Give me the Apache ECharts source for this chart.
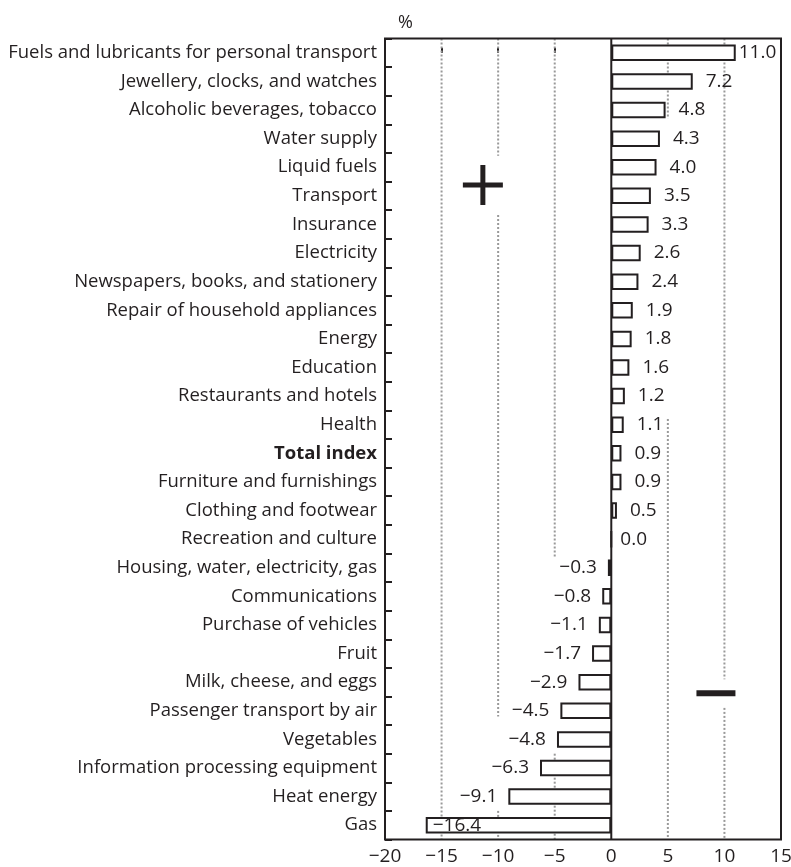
<!DOCTYPE html>
<html><head><meta charset="utf-8">
<script src="https://cdn.jsdelivr.net/npm/echarts@6/dist/echarts.min.js"></script>
<style>html,body{margin:0;padding:0;background:#fff}#c{width:791px;height:867px}</style>
</head><body><div id="c"></div>
<script>
const categories = [
  'Fuels and lubricants for personal transport','Jewellery, clocks, and watches','Alcoholic beverages, tobacco',
  'Water supply','Liquid fuels','Transport','Insurance','Electricity','Newspapers, books, and stationery',
  'Repair of household appliances','Energy','Education','Restaurants and hotels','Health','Total index',
  'Furniture and furnishings','Clothing and footwear','Recreation and culture','Housing, water, electricity, gas',
  'Communications','Purchase of vehicles','Fruit','Milk, cheese, and eggs','Passenger transport by air',
  'Vegetables','Information processing equipment','Heat energy','Gas'
];
const values = [11.0,7.2,4.8,4.3,4.0,3.5,3.3,2.6,2.4,1.9,1.8,1.6,1.2,1.1,0.9,0.9,0.5,0.0,-0.3,-0.8,-1.1,-1.7,-2.9,-4.5,-4.8,-6.3,-9.1,-16.4];
const xMin = -20, xMax = 15, xStep = 5;
// dotted reference lines: [x value, from row, to row] (row units, -0.5 = top edge)
const gridSegments = [
  [-15,-0.5,27.5],
  [-10,-0.5,3.6],[-10,5.67,23.2],[-10,26.5,27.5],
  [-5,-0.5,17.66],[-5,24.5,27.5],
  [5,-0.5,2.3],[5,12.8,27.5],
  [10,-0.5,21.9],[10,22.9,27.5]
];
const signX = [-11.35, 9.25];
const signRow = [4.62, 22.39];
const signNames = ['plus','minus'];

const INK = '#231f20';
const FONT = '"Open Sans"';
const FS = 18.5;
const VFS = 19;
const fmt = v => (v < 0 ? '\u2212' : '') + Math.abs(v).toFixed(1);

const barData = values.map(v => {
  let label;
  if (v < -15) label = {position:'insideLeft', distance:7};
  else if (v < 0) label = {position:'left', distance:11};
  else if (v === 0) label = {position:'right', distance:8};
  else if (v > 10) label = {position:'right', distance:3};
  else label = {position:'right', distance:13};
  return {value: v, label};
});

const chart = echarts.init(document.getElementById('c'), null, {renderer:'canvas'});
chart.setOption({
  animation:false,
  backgroundColor:'#fff',
  title:{text:'%', left:393, top:9, textStyle:{fontFamily:FONT, fontSize:18, fontWeight:'normal', color:INK}},
  grid:{left:385, right:10, top:38.5, bottom:27.5, outerBoundsMode:'none', containLabel:false},
  xAxis:[
    {type:'value', min:xMin, max:xMax, interval:xStep, position:'bottom',
      axisLine:{show:false}, splitLine:{show:false},
      axisTick:{show:true, inside:true, length:5, lineStyle:{color:INK, width:2}},
      axisLabel:{margin:8, fontFamily:FONT, fontSize:VFS, color:INK, formatter: v => (v<0?'\u2212':'') + Math.abs(v)}
    }
  ],
  yAxis:[
    {type:'category', data:categories, inverse:true, position:'left',
      axisLine:{show:false, onZero:false},
      axisTick:{show:true, inside:true, length:7, lineStyle:{color:INK, width:2}},
      axisLabel:{margin:8, fontFamily:FONT, fontSize:FS, color:INK,
        formatter: v => v === 'Total index' ? '{b|' + v + '}' : v,
        rich:{b:{fontFamily:FONT, fontSize:FS, fontWeight:'bold', color:INK}}},
      splitLine:{show:false}
    },
    {type:'value', min:-0.5, max:27.5, inverse:true, show:false}
  ],
  series:[
    {type:'custom', xAxisIndex:0, yAxisIndex:1, z:1, silent:true,
      data: gridSegments,
      encode:{x:0, y:[1,2]},
      renderItem:(params, api) => {
        const p0 = api.coord([api.value(0), api.value(1)]);
        const p1 = api.coord([api.value(0), api.value(2)]);
        return {type:'line', shape:{x1:p0[0], y1:p0[1], x2:p1[0], y2:p1[1]},
          style:{stroke:'#999', lineWidth:2, lineDash:[2,2]}};
      }
    },
    {type:'bar', xAxisIndex:0, yAxisIndex:0, z:3, data:barData, barWidth:16.5,
      itemStyle:{color:'#fff', borderColor:INK, borderWidth:2},
      label:{show:true, fontFamily:FONT, fontSize:VFS, color:INK, formatter: p => fmt(p.value)}
    },
    {type:'custom', xAxisIndex:0, yAxisIndex:1, z:5, silent:true, clip:false,
      data:[[0, -0.5, 27.5]],
      encode:{x:0, y:[1,2]},
      renderItem:(params, api) => {
        const cs = params.coordSys;
        const p0 = api.coord([api.value(0), api.value(1)]);
        const p1 = api.coord([api.value(0), api.value(2)]);
        return {type:'group', children:[
          {type:'rect', shape:{x:cs.x, y:cs.y, width:cs.width, height:cs.height},
            style:{fill:null, stroke:INK, lineWidth:2}},
          {type:'line', shape:{x1:p0[0], y1:p0[1], x2:p1[0], y2:p1[1]},
            style:{stroke:INK, lineWidth:2}}
        ]};
      }
    },
    {type:'scatter', xAxisIndex:0, yAxisIndex:1, z:4, silent:true,
      data: signX.map((x,i) => ({value:[x, signRow[i]], name:signNames[i],
        symbol: signNames[i] === 'plus' ? 'path://M17.5,0h5v17.5h17.5v5h-17.5v17.5h-5v-17.5h-17.5v-5h17.5z' : 'rect',
        symbolSize: signNames[i] === 'plus' ? [40,40] : [39,6]})),
      itemStyle:{color:INK, opacity:1}
    }
  ]
});
</script></body></html>
